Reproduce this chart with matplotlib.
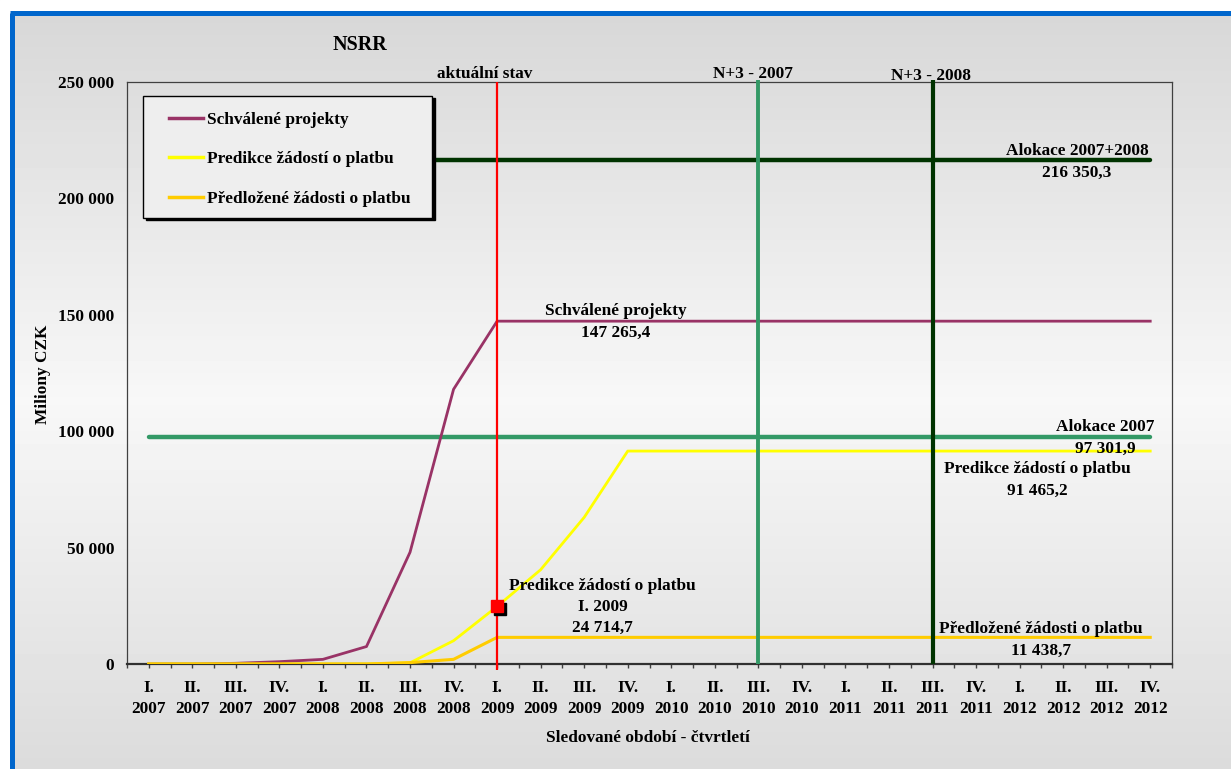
import matplotlib.pyplot as plt
import numpy as np
from matplotlib.patches import Rectangle
from matplotlib.lines import Line2D
import matplotlib.transforms as mtransforms

plt.rcParams['font.family'] = ['Liberation Serif', 'DejaVu Serif']
plt.rcParams['font.weight'] = 'bold'
plt.rcParams['font.size'] = 12.4

# data
quarter_labels = ['I.\n2007', 'II.\n2007', 'III.\n2007', 'IV.\n2007',
                  'I.\n2008', 'II.\n2008', 'III.\n2008', 'IV.\n2008',
                  'I.\n2009', 'II.\n2009', 'III.\n2009', 'IV.\n2009',
                  'I.\n2010', 'II.\n2010', 'III.\n2010', 'IV.\n2010',
                  'I.\n2011', 'II.\n2011', 'III.\n2011', 'IV.\n2011',
                  'I.\n2012', 'II.\n2012', 'III.\n2012', 'IV.\n2012']

schvalene = [0, 0, 300, 1000, 2000, 7500, 48000, 118000,
             147265.4, 147265.4, 147265.4, 147265.4, 147265.4, 147265.4, 147265.4, 147265.4,
             147265.4, 147265.4, 147265.4, 147265.4, 147265.4, 147265.4, 147265.4, 147265.4]
predikce = [0, 0, 0, 0, 0, 0, 500, 10000,
            24714.7, 40500, 63000, 91465.2, 91465.2, 91465.2, 91465.2, 91465.2,
            91465.2, 91465.2, 91465.2, 91465.2, 91465.2, 91465.2, 91465.2, 91465.2]
predlozene = [0, 0, 0, 0, 0, 0, 600, 2000,
              11438.7, 11438.7, 11438.7, 11438.7, 11438.7, 11438.7, 11438.7, 11438.7,
              11438.7, 11438.7, 11438.7, 11438.7, 11438.7, 11438.7, 11438.7, 11438.7]

alokace_2007 = 97301.9
alokace_2008 = 216350.3
idx_aktualni = 8      # I. 2009
idx_n3_2007 = 14      # III. 2010
idx_n3_2008 = 18      # III. 2011

x = np.arange(len(quarter_labels))

W, H = 1231, 769
fig = plt.figure(figsize=(W / 100, H / 100), dpi=100)

# background panel (pixel coords)
bg = fig.add_axes([0, 0, 1, 1], zorder=-10)
bg.set_xlim(0, W)
bg.set_ylim(H, 0)
bg.axis('off')
grad = np.interp(np.arange(H), [0, 30, 400, 769], [0.84, 0.85, 0.97, 0.86])
bg.imshow(np.tile(grad[:, None], (1, 2)), cmap='gray', vmin=0, vmax=1,
          extent=(0, W, H, 0), aspect='auto')
bg.add_patch(Rectangle((0, 0), W, 10, color='white'))
bg.add_patch(Rectangle((0, 0), 10, H, color='white'))
bg.plot([12, 12], [12.5, H], color='#0066CC', lw=3.6, solid_capstyle='butt')
bg.plot([10, W], [12.5, 12.5], color='#0066CC', lw=3.6, solid_capstyle='butt')

ax = fig.add_axes([127 / W, 1 - 664 / H, (1172 - 127) / W, (664 - 82) / H])
ax.patch.set_alpha(0)

# series
ax.plot(x, schvalene, color='#993366', lw=2.0, zorder=3)
ax.plot(x, predikce, color='#FFFF00', lw=2.0, zorder=3)
ax.plot(x, predlozene, color='#FFCC00', lw=2.2, zorder=3)

# allocation lines
ax.plot([x[0], x[-1]], [alokace_2007, alokace_2007], color='#339966', lw=3.2,
        solid_capstyle='round', zorder=2)
ax.plot([x[0], x[-1]], [alokace_2008, alokace_2008], color='#003300', lw=3.2,
        solid_capstyle='round', zorder=2)

# vertical markers
ax.vlines(idx_aktualni, -2500, 250000, color='#FF0000', lw=1.6, zorder=4, clip_on=False)
ax.vlines(idx_n3_2007, 0, 251000, color='#339966', lw=2.8, zorder=4, clip_on=False)
ax.vlines(idx_n3_2008, 0, 251000, color='#003300', lw=3.0, zorder=4, clip_on=False)

# current prediction point with shadow
shadow_tr = mtransforms.offset_copy(ax.transData, fig=fig, x=3, y=-3, units='dots')
ax.plot([idx_aktualni], [predikce[idx_aktualni]], 's', color='black', ms=9,
        transform=shadow_tr, zorder=5)
ax.plot([idx_aktualni], [predikce[idx_aktualni]], 's', color='#FF0000', ms=9, zorder=6)

# axes
ax.set_xlim(-0.5, len(x) - 0.5)
ax.set_ylim(0, 250000)
ax.set_yticks(np.arange(0, 250001, 50000))
ax.set_yticklabels(['0', '50 000', '100 000', '150 000', '200 000', '250 000'])
ax.set_xticks(x)
ax.set_xticklabels(quarter_labels, linespacing=1.45)
ax.set_xticks(np.arange(-0.5, len(x), 1), minor=True)
ax.tick_params(axis='x', which='both', direction='out', length=3, width=1,
               color='#404040', pad=8.5)
ax.tick_params(axis='y', length=0, pad=9)
for s in ['top', 'right', 'left']:
    ax.spines[s].set_color('#404040')
    ax.spines[s].set_linewidth(0.9)
ax.spines['bottom'].set_color('#303030')
ax.spines['bottom'].set_linewidth(1.6)

# labels
fig.text(360 / W, 1 - 45 / H, 'NSRR', fontsize=14.5, ha='center', va='center')
fig.text(43 / W, 1 - 374 / H, 'Miliony CZK', rotation=90, ha='center', va='center')
fig.text(648 / W, 1 - 738 / H, 'Sledované období - čtvrtletí', ha='center', va='center')

ax.text(7.71, 253300, 'aktuální stav', ha='center', va='center', clip_on=False)
ax.text(13.87, 253600, 'N+3 - 2007', ha='center', va='center', clip_on=False)
ax.text(17.96, 252600, 'N+3 - 2008', ha='center', va='center', clip_on=False)

ls = 1.45
ax.text(10.72, 146900, 'Schválené projekty\n147 265,4', ha='center', va='center',
        linespacing=ls, zorder=7)
ax.text(21.32, 215600, 'Alokace 2007+2008\n216 350,3', ha='center', va='center',
        linespacing=ls, zorder=7)
ax.text(21.96, 97100, 'Alokace 2007\n97 301,9', ha='center', va='center',
        linespacing=ls, zorder=7)
ax.text(20.40, 79000, 'Predikce žádostí o platbu\n91 465,2', ha='center', va='center',
        linespacing=ls, zorder=7)
ax.text(20.49, 10300, 'Předložené žádosti o platbu\n11 438,7', ha='center', va='center',
        linespacing=ls, zorder=7)
ax.text(10.42, 24500, 'Predikce žádostí o platbu\nI. 2009\n24 714,7', ha='center',
        va='center', linespacing=ls, zorder=7)

# legend box with shadow on the right
lx0, lw_ = (143 - 127) / 1045, (432 - 143) / 1045
ly0, lh = (664 - 218) / 582, (218 - 96) / 582
ax.add_patch(Rectangle((lx0, ly0), lw_, lh,
                       transform=mtransforms.offset_copy(ax.transAxes, fig=fig, x=3, y=-2,
                                                         units='dots'),
                       facecolor='black', edgecolor='black', zorder=8))
ax.add_patch(Rectangle((lx0, ly0), lw_, lh, transform=ax.transAxes,
                       facecolor='#EEEEEE', edgecolor='black', lw=1, zorder=9))
handles = [Line2D([], [], color='#993366', lw=2.5),
           Line2D([], [], color='#FFFF00', lw=2.5),
           Line2D([], [], color='#FFCC00', lw=2.5)]
leg = ax.legend(handles, ['Schválené projekty', 'Predikce žádostí o platbu',
                          'Předložené žádosti o platbu'],
                loc='upper left', bbox_to_anchor=((169 - 127) / 1045, (664 - 112) / 582),
                frameon=False, borderpad=0, borderaxespad=0, handlelength=1.95,
                handletextpad=0.25, labelspacing=1.35, fontsize=12.4)
leg.set_zorder(10)

fig.savefig('out.png', dpi=100)
